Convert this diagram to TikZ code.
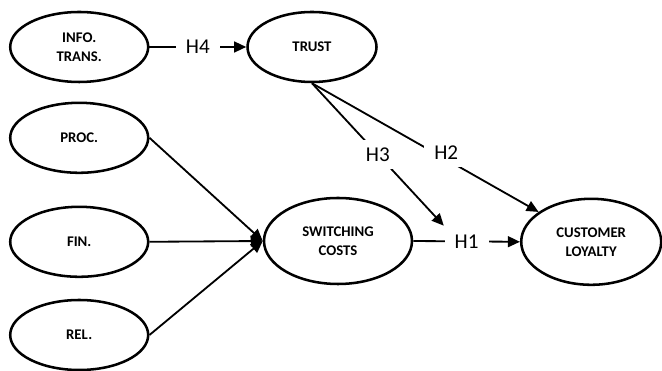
\documentclass[tikz,border=0pt]{standalone}
\usepackage{fontspec}
\setmainfont{Carlito}
\usepackage{tikz}
\usetikzlibrary{arrows.meta,shapes.geometric,positioning}

\begin{document}
\begin{tikzpicture}[
construct/.style={draw, ellipse, line width=1.8pt, inner sep=0pt, align=center,
  font=\fontsize{10.5}{13.5}\selectfont\bfseries, minimum width=3.45cm, minimum height=1.75cm},
link/.style={line width=1.3pt, -{Triangle[length=0.3cm,width=0.27cm]}},
hyp/.style={fill=white, inner xsep=0.25cm, inner ysep=0.2cm, font=\fontsize{15}{17}\selectfont}
]
\useasboundingbox (0,0) rectangle (16.55,9.275);
\node[construct] (info) at (1.98,8.1) {INFO.\\TRANS.};
\node[construct, minimum width=3.225cm] (trust) at (7.8,8.1) {TRUST};
\node[construct] (proc) at (1.98,5.83) {PROC.};
\node[construct] (fin) at (1.98,3.23) {FIN.};
\node[construct] (rel) at (1.98,0.9) {REL.};
\node[construct, minimum width=3.7cm, minimum height=2.15cm] (switch) at (8.45,3.25) {SWITCHING\\COSTS};
\node[construct, minimum width=3.5cm, minimum height=2.15cm] (loyal) at (14.78,3.23) {CUSTOMER\\LOYALTY};

\draw[link] (info.east) -- node[hyp] {H4} (trust.west);
\draw[link] (proc.east) -- (switch.west);
\draw[link] (fin.east) -- (switch.west);
\draw[link] (rel.east) -- (switch.west);
\draw[link] (switch.east) -- node[hyp] (h1) {H1} (loyal.west);
\draw[link] (trust.south) -- node[hyp, pos=0.57, xshift=0.125cm, yshift=0.1cm] {H2} (loyal);
\draw[link] (trust.south) -- node[hyp] {H3} (h1.north west);
\end{tikzpicture}
\end{document}
